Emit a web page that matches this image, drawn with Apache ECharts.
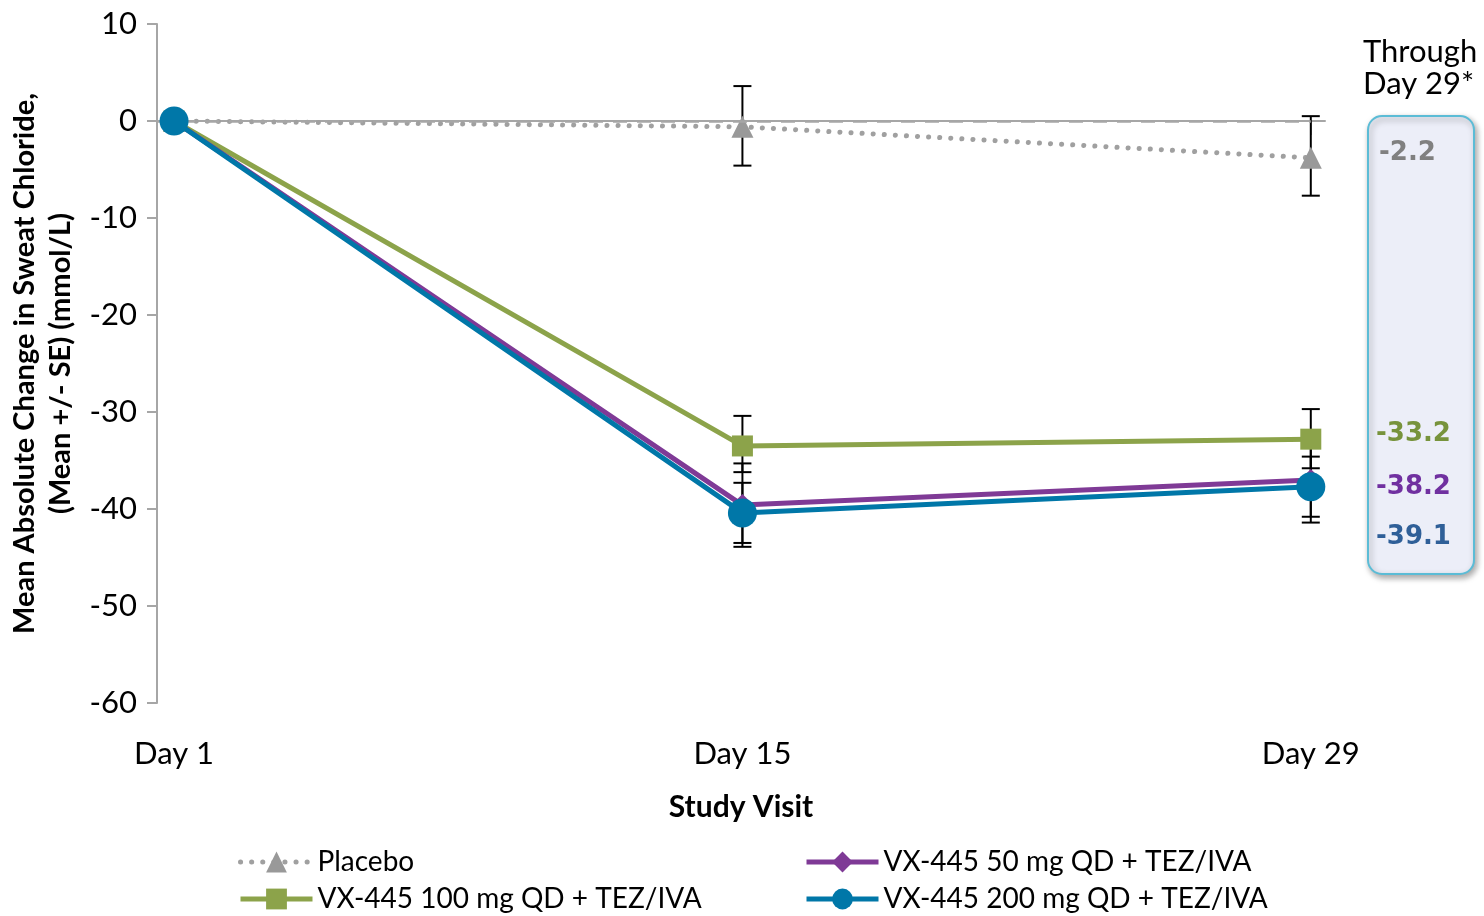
<!DOCTYPE html>
<html>
<head>
<meta charset="utf-8">
<script src="https://cdn.jsdelivr.net/npm/echarts@6/dist/echarts.min.js"></script>
<style>
  html, body { margin: 0; padding: 0; background: #fff; }
  #main { width: 1484px; height: 916px; }
</style>
</head>
<body>
<div id="main"></div>
<script>
// study visits
var days = [1, 15, 29];
var dayLabels = ['Day 1', 'Day 15', 'Day 29'];

// mean change (mmol/L)
var placebo = [0, -0.6, -3.8];
var vx100 = [0, -33.5, -32.8];
var vx50 = [0, -39.6, -37.0];
var vx200 = [0, -40.4, -37.7];

// SE bars [low, high] for day 15 and day 29
var placeboSE = [[-4.6, 3.6], [-7.7, 0.5]];
var vx100SE = [[-36.2, -30.4], [-35.8, -29.7]];
var vx50SE = [[-43.5, -35.3], [-41.4, -32.6]];
var vx200SE = [[-43.9, -37.3], [-40.8, -34.6]];

// through day 29 values shown in the side box
var throughLabels = ['-2.2', '-33.2', '-38.2', '-39.1'];

var FONT = 'Lato';
var names = ['Placebo', 'VX-445 100 mg QD + TEZ/IVA', 'VX-445 50 mg QD + TEZ/IVA', 'VX-445 200 mg QD + TEZ/IVA'];

function pts(vals) {
    return days.map(function (d, i) { return [d, vals[i]]; });
}
function seRows(se) {
    return se.map(function (r, i) { return [days[i + 1], r[0], r[1]]; });
}

var errData = [].concat(seRows(placeboSE), seRows(vx100SE), seRows(vx50SE), seRows(vx200SE));

function legendAt(left, items) {
    return {
        data: items,
        orient: 'vertical',
        left: left,
        top: 847,
        padding: 0,
        itemWidth: 72,
        itemHeight: 26,
        itemGap: 7,
        lineStyle: { width: 5 },
        textStyle: { fontSize: 28, lineHeight: 30, color: '#000', fontFamily: FONT }
    };
}

var myChart = echarts.init(document.getElementById('main'));
var option = {
    animation: false,
    textStyle: { fontFamily: FONT },
    grid: { left: 157, right: 159, top: 24, bottom: 213, containLabel: false, outerBoundsMode: 'none' },
    xAxis: {
        type: 'value',
        min: 0.58,
        max: 29.35,
        name: 'Study Visit',
        nameLocation: 'middle',
        nameGap: 89,
        nameTextStyle: { fontFamily: FONT, fontWeight: 'bold', fontSize: 30, color: '#000' },
        splitLine: { show: false },
        axisLine: { lineStyle: { color: '#a6a6a6', width: 2 } },
        axisTick: { show: true, length: 14, customValues: days, lineStyle: { color: '#a6a6a6', width: 2 } },
        axisLabel: {
            customValues: days,
            margin: 35,
            fontSize: 31,
            color: '#000',
            formatter: function (v) { return dayLabels[days.indexOf(v)]; }
        }
    },
    yAxis: {
        type: 'value',
        min: -60,
        max: 10,
        interval: 10,
        name: 'Mean Absolute Change in Sweat Chloride,\n(Mean +/- SE) (mmol/L)',
        nameLocation: 'middle',
        nameGap: 76,
        nameTextStyle: { fontFamily: FONT, fontWeight: 'bold', fontSize: 29, color: '#000', lineHeight: 36 },
        splitLine: { show: false },
        axisLine: { show: true, lineStyle: { color: '#a6a6a6', width: 2 } },
        axisTick: { show: true, length: 10, lineStyle: { color: '#a6a6a6', width: 2 } },
        axisLabel: { fontSize: 31, color: '#000', margin: 20 }
    },
    legend: [
        legendAt(238, [names[0], names[1]]),
        legendAt(804, [names[2], names[3]])
    ],
    series: [
        {
            type: 'custom',
            name: 'SE',
            z: 1,
            data: errData,
            encode: { x: 0, y: [1, 2] },
            renderItem: function (params, api) {
                var lo = api.coord([api.value(0), api.value(1)]);
                var hi = api.coord([api.value(0), api.value(2)]);
                var w = 9;
                var st = { stroke: '#000', lineWidth: 2 };
                return {
                    type: 'group',
                    children: [
                        { type: 'line', shape: { x1: lo[0], y1: lo[1], x2: hi[0], y2: hi[1] }, style: st },
                        { type: 'line', shape: { x1: lo[0] - w, y1: lo[1], x2: lo[0] + w, y2: lo[1] }, style: st },
                        { type: 'line', shape: { x1: hi[0] - w, y1: hi[1], x2: hi[0] + w, y2: hi[1] }, style: st }
                    ]
                };
            }
        },
        {
            name: names[0],
            type: 'line',
            z: 2,
            data: pts(placebo),
            symbol: 'triangle',
            symbolSize: 22,
            itemStyle: { color: '#999999' },
            lineStyle: { color: '#a0a0a0', width: 5, type: [0.1, 11], cap: 'round' },
            markLine: {
                silent: true,
                symbol: 'none',
                label: { show: false },
                lineStyle: { color: '#a6a6a6', width: 2.5, type: [14, 10] },
                data: [[{ coord: [0.58, 0] }, { coord: [29, 0] }]]
            }
        },
        {
            name: names[1],
            type: 'line',
            z: 3,
            data: pts(vx100),
            symbol: 'rect',
            symbolSize: 21,
            itemStyle: { color: '#8ca34a' },
            lineStyle: { color: '#8ca34a', width: 5 }
        },
        {
            name: names[2],
            type: 'line',
            z: 4,
            data: pts(vx50),
            symbol: 'diamond',
            symbolSize: 22,
            itemStyle: { color: '#7f3a96' },
            lineStyle: { color: '#7f3a96', width: 5 }
        },
        {
            name: names[3],
            type: 'line',
            z: 5,
            data: pts(vx200),
            symbol: 'circle',
            symbolSize: 29,
            itemStyle: { color: '#0077a8' },
            lineStyle: { color: '#0077a8', width: 5 }
        }
    ],
    graphic: [
        {
            type: 'text', left: 1363, top: 36,
            style: { text: 'Through\nDay 29*', fontFamily: FONT, fontSize: 31, lineHeight: 32, fill: '#000' }
        },
        {
            type: 'rect',
            shape: { x: 1368, y: 116, width: 106, height: 458, r: 14 },
            style: { fill: '#eceef8', stroke: '#5bbcd6', lineWidth: 2, shadowBlur: 6, shadowOffsetX: 2, shadowOffsetY: 3, shadowColor: 'rgba(0,0,0,0.35)' }
        },
        { type: 'text', x: 1379, y: 140, style: { text: throughLabels[0], fontFamily: 'DejaVu Sans', fontWeight: 'bold', fontSize: 26, fill: '#808080' } },
        { type: 'text', x: 1376, y: 421, style: { text: throughLabels[1], fontFamily: 'DejaVu Sans', fontWeight: 'bold', fontSize: 26, fill: '#77933c' } },
        { type: 'text', x: 1376, y: 474, style: { text: throughLabels[2], fontFamily: 'DejaVu Sans', fontWeight: 'bold', fontSize: 26, fill: '#7030a0' } },
        { type: 'text', x: 1376, y: 524, style: { text: throughLabels[3], fontFamily: 'DejaVu Sans', fontWeight: 'bold', fontSize: 26, fill: '#2f5f98' } }
    ]
};
myChart.setOption(option);
</script>
</body>
</html>
